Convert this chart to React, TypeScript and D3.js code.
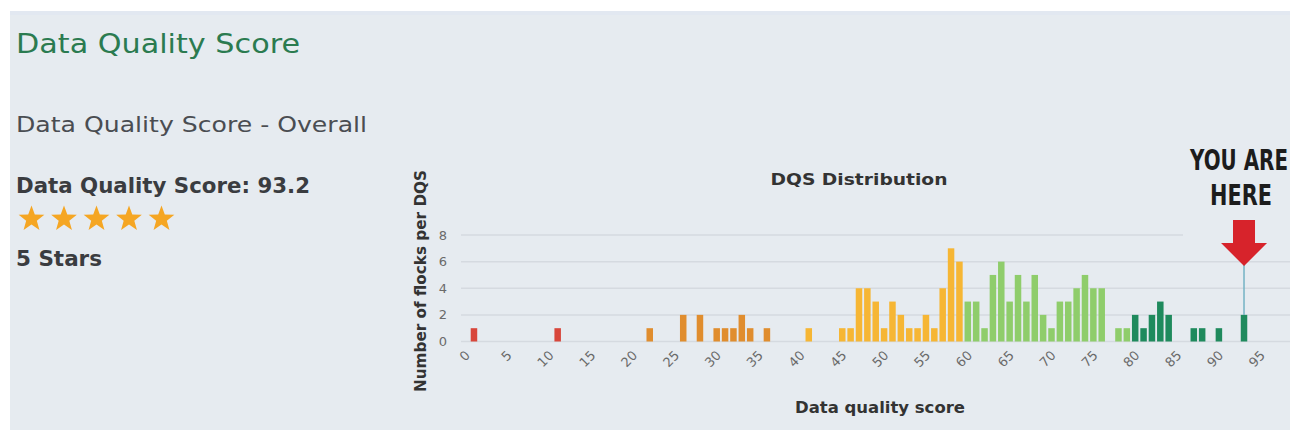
import React, { useEffect, useRef } from "react";
import * as d3 from "d3";

// DQS distribution: score -> number of flocks
const scores = [1, 11, 22, 26, 28, 30, 31, 32, 33, 34, 36, 41, 45, 46, 47, 48, 49, 50, 51, 52, 53, 54, 55, 56, 57, 58, 59,
  60, 61, 62, 63, 64, 65, 66, 67, 68, 69, 70, 71, 72, 73, 74, 75, 76, 78, 79, 80, 81, 82, 83, 84, 87, 88, 90, 93];
const counts = [1, 1, 1, 2, 2, 1, 1, 1, 2, 1, 1, 1, 1, 1, 4, 4, 3, 1, 3, 2, 1, 1, 2, 1, 4, 7, 6,
  3, 3, 1, 5, 6, 3, 5, 3, 5, 2, 1, 3, 3, 4, 5, 4, 4, 1, 1, 2, 1, 2, 3, 2, 1, 1, 1, 2];
const yTicks = [0, 2, 4, 6, 8];
const xTicks = [0, 5, 10, 15, 20, 25, 30, 35, 40, 45, 50, 55, 60, 65, 70, 75, 80, 85, 90, 95];
const bandLimits = [20, 40, 60, 80];
const bandColors = ["#d8463b", "#e08d2e", "#f6b634", "#8fcd6b", "#1f8a5d"];
const myScore = 93.2;
const myBar = 93;
const starCount = 5;

const W = 1290, H = 430;
const bg = "#e6ebf0";

function starPath(cx: number, cy: number, R: number, r: number) {
  const pts: [number, number][] = [];
  for (let i = 0; i < 10; i++) {
    const a = -Math.PI / 2 + (i * Math.PI) / 5;
    const rad = i % 2 === 0 ? R : r;
    pts.push([cx + rad * Math.cos(a), cy + rad * Math.sin(a)]);
  }
  return "M" + pts.map(p => p.join(",")).join("L") + "Z";
}

export default function App() {
  const ref = useRef<SVGSVGElement>(null);

  useEffect(() => {
    document.body.style.margin = "0";
    const svg = d3.select(ref.current);
    svg.selectAll("*").remove();

    svg.append("rect").attr("width", W).attr("height", H).attr("fill", "#ffffff");
    svg.append("rect").attr("x", 10).attr("y", 11).attr("width", W - 10).attr("height", H - 11).attr("fill", bg);
    svg.append("rect").attr("x", 10).attr("y", 11).attr("width", W - 10).attr("height", 4).attr("fill", "#e2e8f1");

    // left panel texts
    const sans = "'DejaVu Sans', sans-serif";
    svg.append("text").attr("x", 16).attr("y", 53).text("Data Quality Score")
      .attr("font-family", sans).attr("font-size", 26).attr("fill", "#2b7b50")
      .attr("textLength", 284).attr("lengthAdjust", "spacingAndGlyphs");
    svg.append("text").attr("x", 16).attr("y", 132).text("Data Quality Score - Overall")
      .attr("font-family", sans).attr("font-size", 22).attr("fill", "#4a4d52")
      .attr("textLength", 351).attr("lengthAdjust", "spacingAndGlyphs");
    svg.append("text").attr("x", 16).attr("y", 193).text("Data Quality Score: " + myScore)
      .attr("font-family", sans).attr("font-weight", "bold").attr("font-size", 21).attr("fill", "#3a3c40")
      .attr("textLength", 294).attr("lengthAdjust", "spacingAndGlyphs");
    svg.append("g").selectAll("path").data(d3.range(starCount)).enter().append("path")
      .attr("d", i => starPath(31.5 + i * 32.5, 219, 13.5, 5.6)).attr("fill", "#f5a623");
    svg.append("text").attr("x", 16).attr("y", 266).text(starCount + " Stars")
      .attr("font-family", sans).attr("font-weight", "bold").attr("font-size", 21).attr("fill", "#3a3c40")
      .attr("textLength", 86).attr("lengthAdjust", "spacingAndGlyphs");

    // chart
    const x = d3.scaleLinear().domain([0, 100]).range([465.6, 465.6 + 837]);
    const y = d3.scaleLinear().domain([0, 8]).range([341.5, 235]);
    const color = d3.scaleThreshold<number, string>().domain(bandLimits).range(bandColors);
    const font = "'DejaVu Sans', sans-serif";

    svg.append("g").selectAll("line").data(yTicks).enter().append("line")
      .attr("x1", x(-0.55)).attr("x2", W).attr("y1", d => y(d)).attr("y2", d => y(d))
      .attr("stroke", "#d5dae0").attr("stroke-width", 1.5);

    svg.append("g").selectAll("text").data(yTicks).enter().append("text")
      .attr("x", 447).attr("y", d => y(d) + 4.5).attr("text-anchor", "end").text(d => d)
      .attr("font-family", font).attr("font-size", 13).attr("fill", "#6a6a6a");

    svg.append("g").selectAll("text").data(xTicks).enter().append("text")
      .attr("transform", d => `translate(${x(d) + 2},${353}) rotate(-45)`)
      .attr("text-anchor", "end").attr("dy", "0.35em").text(d => d)
      .attr("font-family", font).attr("font-size", 13).attr("fill", "#6a6a6a");

    // "you are here" overlay background
    svg.append("rect").attr("x", 1183).attr("y", 140).attr("width", W - 1183).attr("height", 110).attr("fill", bg);

    const bw = 6.5;
    svg.append("g").selectAll("rect").data(scores).enter().append("rect")
      .attr("x", (d) => x(d) - bw / 2).attr("width", bw)
      .attr("y", (d, i) => y(counts[i])).attr("height", (d, i) => y(0) - y(counts[i]))
      .attr("fill", d => color(d));

    svg.append("text").attr("x", 859).attr("y", 185).attr("text-anchor", "middle").text("DQS Distribution")
      .attr("font-family", font).attr("font-weight", "bold").attr("font-size", 16).attr("fill", "#333")
      .attr("textLength", 177).attr("lengthAdjust", "spacingAndGlyphs");
    svg.append("text").attr("x", 880).attr("y", 413).attr("text-anchor", "middle").text("Data quality score")
      .attr("font-family", font).attr("font-weight", "bold").attr("font-size", 15).attr("fill", "#333")
      .attr("textLength", 170).attr("lengthAdjust", "spacingAndGlyphs");
    svg.append("text").attr("transform", "translate(426,281) rotate(-90)").attr("text-anchor", "middle")
      .text("Number of flocks per DQS")
      .attr("font-family", font).attr("font-weight", "bold").attr("font-size", 15).attr("fill", "#333")
      .attr("textLength", 222).attr("lengthAdjust", "spacingAndGlyphs");

    // marker
    const mi = scores.indexOf(myBar);
    const mx = x(myBar);
    svg.append("line").attr("x1", mx).attr("x2", mx).attr("y1", 265).attr("y2", y(counts[mi]))
      .attr("stroke", "#74b3c4").attr("stroke-width", 1.5);
    svg.append("path")
      .attr("d", `M${mx - 11},220 L${mx + 11},220 L${mx + 11},243 L${mx + 23},243 L${mx},266 L${mx - 23},243 L${mx - 11},243 Z`)
      .attr("fill", "#d7232b");

    // condensed look: measure natural width and squeeze horizontally
    const here = [["YOU ARE", 1190, 170, 98], ["HERE", 1210, 205, 62]] as const;
    here.forEach(([t, tx, ty, tw]) => {
      const g = svg.append("g");
      const el = g.append("text").text(t)
        .attr("font-family", font).attr("font-weight", "bold").attr("font-size", 29).attr("fill", "#1c1c1c");
      const w = (el.node() as SVGTextElement).getComputedTextLength() || tw;
      g.attr("transform", `translate(${tx},${ty}) scale(${tw / w},1)`);
    });
  }, []);

  return <svg ref={ref} width={W} height={H} style={{ display: "block" }} />;
}
